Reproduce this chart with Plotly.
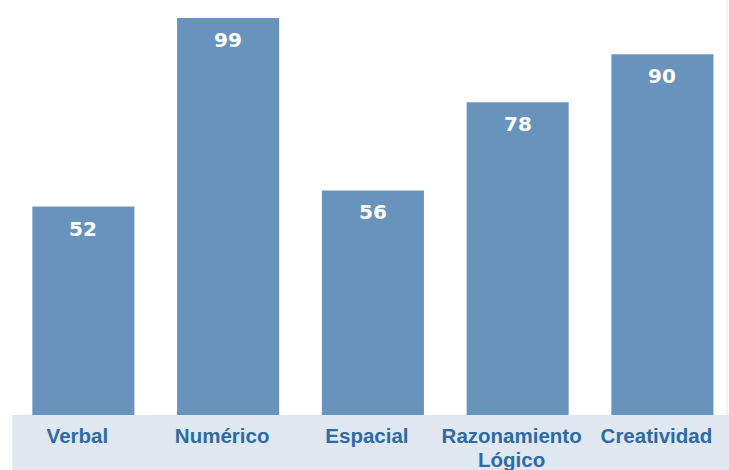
import plotly.graph_objects as go

categories = ["Verbal", "Numérico", "Espacial", "Razonamiento<br>Lógico", "Creatividad"]
values = [52, 99, 56, 78, 90]

bar_color = "#6793bd"
label_color = "#2e6aa4"
band_color = "#dfe7f0"
label_font = dict(family="Liberation Sans, Arial", size=20.5, color=label_color)

x_pos = list(range(len(categories)))
first_lines = [c.split("<br>")[0] for c in categories]
extra_lines = [c.split("<br>")[1:] for c in categories]

fig = go.Figure()
fig.add_trace(go.Bar(
    x=x_pos, y=values,
    marker=dict(color=bar_color, line=dict(width=0)),
    hoverinfo="skip",
))

for xi, v in zip(x_pos, values):
    fig.add_annotation(
        x=xi, y=v, text=f"<b>{v}</b>", showarrow=False,
        yanchor="top", yshift=-8,
        font=dict(family="DejaVu Sans", size=20, color="white"),
    )

# continuation lines of wrapped category labels (tighter line spacing)
for xi, lines in zip(x_pos, extra_lines):
    for k, line in enumerate(lines):
        fig.add_annotation(
            x=xi, xref="x", y=0, yref="paper", text=f"<b>{line}</b>",
            showarrow=False, yanchor="middle", xshift=-6, yshift=-44 - 23 * k,
            font=label_font,
        )

fig.add_shape(type="rect", xref="paper", yref="paper",
              x0=0.002, x1=1.05, y0=-0.2, y1=0,
              fillcolor=band_color, line=dict(width=0), layer="below")
fig.add_shape(type="line", xref="paper", yref="paper",
              x0=0.9972, x1=0.9972, y0=0, y1=1,
              line=dict(color="#ebebeb", width=1), layer="below")

fig.update_layout(
    width=729, height=470,
    margin=dict(l=11, r=0, t=0, b=55),
    paper_bgcolor="white", plot_bgcolor="white",
    bargap=0.295,
    showlegend=False,
    xaxis=dict(
        tickmode="array", tickvals=x_pos,
        ticktext=[f"<b>{c}</b>" for c in first_lines],
        range=[-0.5, 4.46],
        showgrid=False, zeroline=False, showline=False, ticks="",
        ticklabelstandoff=6, ticklabelshift=-6,
        automargin=False,
        tickfont=label_font,
        fixedrange=True,
    ),
    yaxis=dict(
        range=[0, 103.5], visible=False, showgrid=False, zeroline=False,
        fixedrange=True, automargin=False,
    ),
)

fig.write_html("out.html", config={"displayModeBar": False},
               post_script="document.body.style.margin='0';document.body.style.overflow='hidden';")
